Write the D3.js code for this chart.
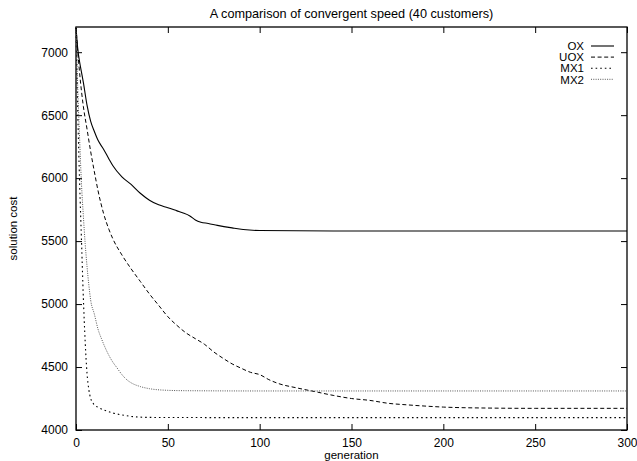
<!DOCTYPE html>
<html>
<head>
<meta charset="utf-8">
<script src="https://cdn.jsdelivr.net/npm/d3@7/dist/d3.min.js"></script>
<style>
html,body{margin:0;padding:0;background:#fff;}
svg{display:block;font-family:"Liberation Sans",Arial,Helvetica,sans-serif;}
</style>
</head>
<body>
<svg id="chart" width="637" height="461"></svg>
<script>
const title = "A comparison of convergent speed (40 customers)";
const xLabel = "generation";
const yLabel = "solution cost";
const xTicks = [0, 50, 100, 150, 200, 250, 300];
const yTicks = [4000, 4500, 5000, 5500, 6000, 6500, 7000];
const seriesNames = ["OX", "UOX", "MX1", "MX2"];

const oxGen = [0,1,2,3,4,6,8,10,12,15,18,20,25,30,35,40,45,50,55,58,62,65,68,72,77,85,91,100,120,150,200,250,300];
const oxVal = [7200,7020,6920,6840,6760,6580,6450,6370,6300,6230,6150,6100,6010,5950,5880,5825,5788,5765,5740,5725,5700,5668,5650,5640,5625,5605,5592,5584,5582,5580,5580,5580,5580];

const uoxGen = [0,1,2,4,6,8,10,12,15,18,20,25,30,35,40,45,50,55,60,65,70,75,80,85,90,95,100,105,110,120,130,140,150,160,170,180,190,200,220,250,300];
const uoxVal = [7200,7000,6830,6570,6390,6210,6050,5900,5720,5590,5520,5390,5280,5180,5080,4990,4900,4830,4770,4725,4680,4620,4570,4525,4490,4458,4440,4400,4370,4335,4305,4275,4250,4235,4212,4200,4190,4182,4175,4172,4172];

const mx1Gen = [0,1,2,3,4,5,6,7,8,10,12,15,20,25,30,35,40,60,100,300];
const mx1Val = [7200,6500,5950,5500,5050,4700,4450,4320,4250,4200,4180,4160,4135,4120,4108,4102,4100,4099,4098,4098];

const mx2Gen = [0,1,2,3,4,5,6,7,8,10,12,14,16,18,20,22,25,28,30,35,40,50,60,100,300];
const mx2Val = [7200,6700,6300,5950,5700,5480,5300,5150,5030,4920,4800,4720,4650,4590,4540,4500,4440,4395,4375,4345,4328,4315,4312,4310,4310];

const svg = d3.select("#chart");
const L = 76, R = 627, T = 27, B = 430;
const x = d3.scaleLinear().domain([0, 300]).range([L, R]);
const y = d3.scaleLinear().domain([4000, 7200]).range([B, T]);

const styles = [
  {dash: null, color: "#000", w: 1.1},
  {dash: "4,2.6", color: "#000", w: 1},
  {dash: "1.6,3", color: "#000", w: 1.1},
  {dash: "1,1.3", color: "#555", w: 1}
];
const data = [
  oxGen.map((g,i)=>[g, oxVal[i]]),
  uoxGen.map((g,i)=>[g, uoxVal[i]]),
  mx1Gen.map((g,i)=>[g, mx1Val[i]]),
  mx2Gen.map((g,i)=>[g, mx2Val[i]])
];

// title
svg.append("text").attr("x", (L+R)/2).attr("y", 18).attr("text-anchor","middle")
  .attr("font-size", 12.7).text(title);

// axes with inward ticks
const tl = 6;
const fmt = d3.format("d");
const axB = svg.append("g").attr("transform", `translate(0,${B})`)
  .call(d3.axisBottom(x).tickValues(xTicks).tickFormat(fmt).tickSizeInner(-tl).tickSizeOuter(0).tickPadding(tl+2));
const axT = svg.append("g").attr("transform", `translate(0,${T})`)
  .call(d3.axisTop(x).tickValues(xTicks).tickSizeInner(-tl).tickSizeOuter(0).tickFormat(""));
const axL = svg.append("g").attr("transform", `translate(${L},0)`)
  .call(d3.axisLeft(y).tickValues(yTicks).tickFormat(fmt).tickSizeInner(-tl).tickSizeOuter(0).tickPadding(tl+2));
const axR = svg.append("g").attr("transform", `translate(${R},0)`)
  .call(d3.axisRight(y).tickValues(yTicks).tickSizeInner(-tl).tickSizeOuter(0).tickFormat(""));
[axB, axT, axL, axR].forEach(a => {
  a.select(".domain").remove();
  a.selectAll("line").attr("stroke", "#000");
  a.selectAll("text").attr("font-size", 12).attr("fill", "#000")
   .attr("font-family", '"Liberation Sans",Arial,Helvetica,sans-serif');
});

// frame
svg.append("rect").attr("x", L).attr("y", T).attr("width", R-L).attr("height", B-T)
  .attr("fill", "none").attr("stroke", "#000").attr("stroke-width", 1.3);

// axis labels
svg.append("text").attr("x", (L+R)/2).attr("y", 459).attr("text-anchor","middle")
  .attr("font-size", 11.5).text(xLabel);
svg.append("text").attr("transform", `translate(17,${(T+B)/2}) rotate(-90)`)
  .attr("text-anchor","middle").attr("font-size", 11.5).text(yLabel);

// lines
const line = d3.line().x(d=>x(d[0])).y(d=>y(d[1])).curve(d3.curveMonotoneX);
data.forEach((d,i) => {
  svg.append("path").datum(d).attr("d", line).attr("fill","none")
    .attr("stroke", styles[i].color).attr("stroke-width", styles[i].w)
    .attr("stroke-dasharray", styles[i].dash);
});

// legend
const lg = svg.append("g");
seriesNames.forEach((n,i) => {
  const yy = 46 + i*11.1;
  lg.append("text").attr("x", 584).attr("y", yy+4.2).attr("text-anchor","end")
    .attr("font-size", 11.5).text(n);
  lg.append("line").attr("x1", 591).attr("x2", 614).attr("y1", yy).attr("y2", yy)
    .attr("stroke", styles[i].color).attr("stroke-width", styles[i].w)
    .attr("stroke-dasharray", styles[i].dash);
});
</script>
</body>
</html>
